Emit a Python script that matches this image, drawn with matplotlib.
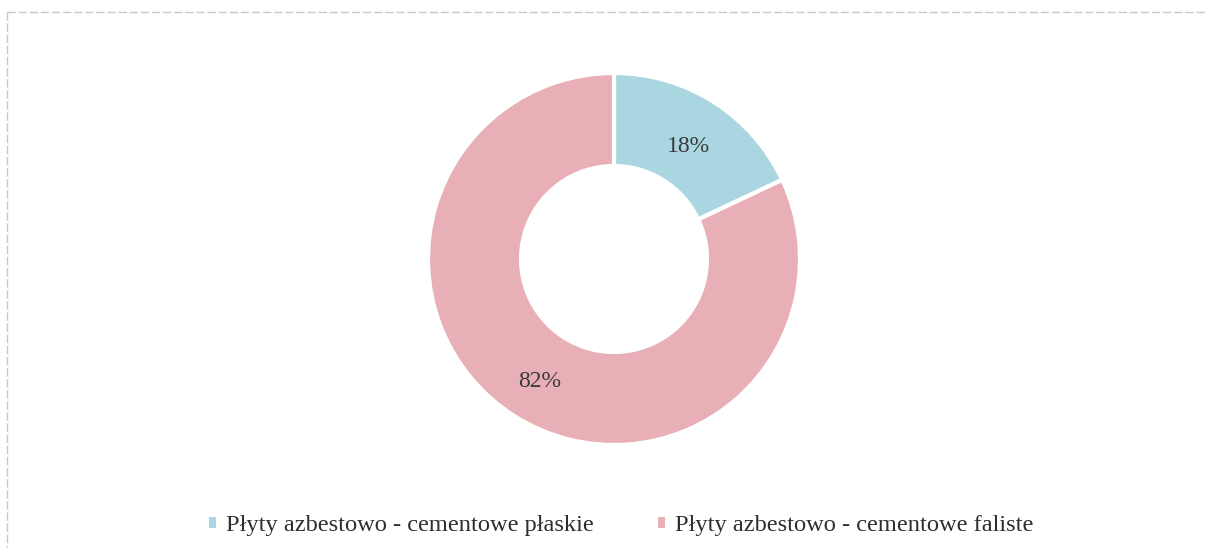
import matplotlib
matplotlib.use("Agg")
import matplotlib.pyplot as plt
import matplotlib.transforms as mtransforms
from matplotlib.patches import Patch
from matplotlib.lines import Line2D

categories = ["Płyty azbestowo - cementowe płaskie", "Płyty azbestowo - cementowe faliste"]
values = [18, 82]
colors = ["#A9D6E0", "#E8B0B6"]

W, H = 1207, 558
fig = plt.figure(figsize=(W / 100, H / 100), dpi=100)
fig.patch.set_facecolor("white")
FONT = "Liberation Serif"

# border lines (top and left)
fig.add_artist(Line2D([7 / W, 1 - 2 / W], [1 - 12 / H, 1 - 12 / H], color="#c8c8c8", lw=1, ls=(0, (6, 2))))
fig.add_artist(Line2D([7 / W, 7 / W], [1 - 12 / H, 0.02], color="#c8c8c8", lw=1, ls=(0, (6, 2))))

R = 186
cx, cy = 614, 259
ax = fig.add_axes([(cx - R) / W, 1 - (cy + R) / H, 2 * R / W, 2 * R / H])
wedges, texts, autotexts = ax.pie(
    values, colors=colors, startangle=90, counterclock=False, radius=1.0,
    wedgeprops=dict(width=0.5, edgecolor="white", linewidth=3),
    autopct=lambda p: f"{p:.0f}%", pctdistance=0.75,
    textprops=dict(fontsize=17, color="#3a3a3a", family=FONT))
for t in autotexts:
    t.set_transform(t.get_transform() + mtransforms.ScaledTranslation(0, -5 / 100, fig.dpi_scale_trans))
ax.set_xlim(-1, 1)
ax.set_ylim(-1, 1)
ax.set_aspect("equal")
ax.axis("off")

# choose legend font size so the first label spans ~368 px
renderer = fig.canvas.get_renderer()
probe = fig.text(0, 0, categories[0], family=FONT, size=16)
wpx = probe.get_window_extent(renderer).width
probe.remove()
size = 16 * 368 / wpx
fpx = size * 100 / 72

handles = [Patch(facecolor=c, edgecolor="none") for c in colors]
leg = fig.legend(handles, categories, loc="center left", bbox_to_anchor=(209 / W, 1 - 526 / H),
                 ncol=2, frameon=False, handlelength=7 / fpx, handleheight=7 / fpx,
                 handletextpad=10 / fpx, columnspacing=64 / fpx, borderpad=0, borderaxespad=0,
                 prop=dict(family=FONT, size=size))
for t in leg.get_texts():
    t.set_color("#2e2e2e")

fig.savefig("out.png", dpi=100, facecolor="white")
